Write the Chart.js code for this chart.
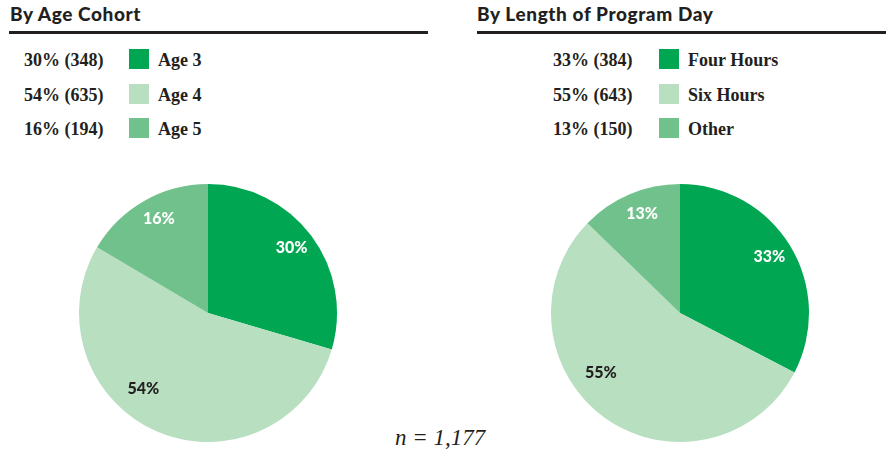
<!DOCTYPE html>
<html>
<head>
<meta charset="utf-8">
<script src="https://cdn.jsdelivr.net/npm/chart.js@4.4.0/dist/chart.umd.min.js"></script>
<style>
  body { margin: 0; background: #fff; width: 886px; height: 452px; position: relative; overflow: hidden; }
  .title { position: absolute; top: 2px; font: 900 19px Lato, sans-serif; letter-spacing: 0.6px; color: #231f20; }
  .rule { position: absolute; top: 31px; height: 3px; background: #231f20; }
  .row { position: absolute; font: bold 18px "Liberation Serif", serif; color: #231f20; }
  .row span { position: absolute; white-space: nowrap; top: 0; }
  .sw { position: absolute; width: 20px; height: 20px; }
  canvas { position: absolute; }
  .n { position: absolute; left: 395px; top: 425px; font: italic 23px "Liberation Serif", serif; color: #231f20; }
</style>
</head>
<body>
<div class="title" style="left:10px">By Age Cohort</div>
<div class="rule" style="left:9px;width:419px"></div>
<div class="title" style="left:477px">By Length of Program Day</div>
<div class="rule" style="left:477px;width:409px"></div>
<div id="legA"></div>
<div id="legB"></div>
<canvas id="pieA" width="270" height="270" style="left:73px;top:178px"></canvas>
<canvas id="pieB" width="270" height="270" style="left:545px;top:178px"></canvas>
<div class="n">n = 1,177</div>
<script>
// data
const ageLabels = ['Age 3', 'Age 4', 'Age 5'];
const ageCounts = [348, 635, 194];
const agePct = [30, 54, 16];

const dayLabels = ['Four Hours', 'Six Hours', 'Other'];
const dayCounts = [384, 643, 150];
const dayPct = [33, 55, 13];

// style
const colors = ['#00a651', '#b7dfc0', '#71c18c'];
const labelColors = ['#ffffff', '#231f20', '#ffffff'];
const labelNudge = [-1, 17, 2]; // degrees
const labelRadius = [0.82, 0.77, 0.82];

function buildLegend(el, labels, counts, pct, x0, swX, labX) {
    let html = '';
    const rows = [49, 84, 118];
    labels.forEach(function (l, i) {
        html += '<div class="row" style="left:0;top:' + (rows[i] + 1) + 'px">' +
            '<span style="left:' + x0 + 'px">' + pct[i] + '% (' + counts[i] + ')</span>' +
            '<span style="left:' + labX + 'px">' + l + '</span></div>' +
            '<div class="sw" style="left:' + swX + 'px;top:' + rows[i] + 'px;background:' + colors[i] + '"></div>';
    });
    document.getElementById(el).innerHTML = html;
}
buildLegend('legA', ageLabels, ageCounts, agePct, 24, 129, 158);
buildLegend('legB', dayLabels, dayCounts, dayPct, 553, 659, 688);

const pctLabels = {
    id: 'pctLabels',
    afterDatasetsDraw(chart, args, opts) {
        const ctx = chart.ctx;
        const meta = chart.getDatasetMeta(0);
        ctx.save();
        ctx.font = '900 16px Lato, sans-serif';
        ctx.textAlign = 'center';
        ctx.textBaseline = 'middle';
        meta.data.forEach(function (arc, i) {
            const p = arc.getProps(['x', 'y', 'startAngle', 'endAngle', 'outerRadius'], true);
            const a = (p.startAngle + p.endAngle) / 2 + labelNudge[i] * Math.PI / 180;
            const r = p.outerRadius * labelRadius[i];
            ctx.fillStyle = labelColors[i];
            ctx.fillText(opts.pct[i] + '%', p.x + Math.cos(a) * r, p.y + Math.sin(a) * r);
        });
        ctx.restore();
    }
};

function makePie(id, labels, counts, pct) {
    return new Chart(document.getElementById(id), {
        type: 'pie',
        data: {
            labels: labels,
            datasets: [{ data: counts, backgroundColor: colors, borderWidth: 0 }]
        },
        options: {
            responsive: false,
            animation: false,
            radius: 129,
            plugins: {
                legend: { display: false },
                tooltip: { enabled: false },
                pctLabels: { pct: pct }
            }
        },
        plugins: [pctLabels]
    });
}
makePie('pieA', ageLabels, ageCounts, agePct);
makePie('pieB', dayLabels, dayCounts, dayPct);
</script>
</body>
</html>
